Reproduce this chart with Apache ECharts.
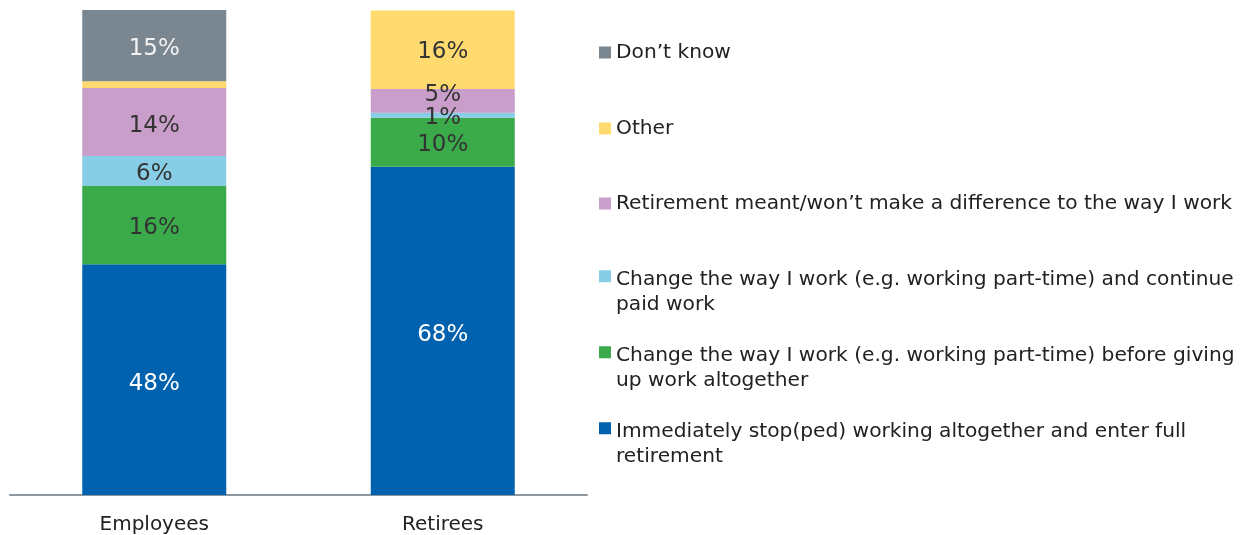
<!DOCTYPE html>
<html>
<head>
<meta charset="utf-8">
<script src="https://cdn.jsdelivr.net/npm/echarts@6/dist/echarts.min.js"></script>
<style>html,body{margin:0;padding:0;background:#fff}#c{width:1252px;height:535px}</style>
</head>
<body>
<div id="c"></div>
<script>
var categories = ['Employees', 'Retirees'];
var seriesNames = [
  'Immediately stop(ped) working altogether and enter full retirement',
  'Change the way I work (e.g. working part-time) before giving up work altogether',
  'Change the way I work (e.g. working part-time) and continue paid work',
  "Retirement meant/won\u2019t make a difference to the way I work",
  'Other',
  'Don\u2019t know'
];
var legendLabels = [
  'Immediately stop(ped) working altogether and enter full\nretirement',
  'Change the way I work (e.g. working part-time) before giving\nup work altogether',
  'Change the way I work (e.g. working part-time) and continue\npaid work',
  "Retirement meant/won\u2019t make a difference to the way I work",
  'Other',
  'Don\u2019t know'
];
var immediately = [47.6, 67.7];
var changeBefore = [16.1, 10.1];
var changeContinue = [6.2, 1.0];
var noDifference = [14.0, 4.9];
var other = [1.4, 16.2];
var dontKnow = [14.7, 0];
var values = [immediately, changeBefore, changeContinue, noDifference, other, dontKnow];

var colors = ['#0062AE', '#3AAA4B', '#87CDE5', '#C99ECA', '#FFDA6E', '#7A8690'];
var labelColors = ['#ffffff', '#333333', '#333333', '#333333', '#333333', '#f2f2f2'];
var labelOffsets = [[[0,4],[0,4]], [[0,3],[0,3]], [[0,3],[0,3]], [[0,4],[0,-6]], [[0,2],[0,2]], [[0,3],[0,2]]];

var series = values.map(function (vals, i) {
  return {
    name: seriesNames[i],
    type: 'bar',
    stack: 'total',
    barWidth: 144,
    itemStyle: { color: colors[i] },
    data: vals.map(function (v, j) {
      return {
        value: v,
        label: { offset: labelOffsets[i][j] }
      };
    }),
    label: {
      show: true,
      position: 'inside',
      color: labelColors[i],
      fontFamily: 'DejaVu Sans',
      fontSize: 23,
      formatter: function (p) {
        var r = Math.round(p.value);
        return (p.value < 0.9) ? '' : (r < 1 || (r === 1 && p.seriesIndex === 4) ? '' : r + '%');
      }
    }
  };
});

var legendTops = [431, 355, 279, 203, 128, 52];
var legends = seriesNames.map(function (n, i) {
  var twoLine = legendLabels[i].indexOf('\n') >= 0;
  var h = twoLine ? 50 : 25;
  return {
    data: [n],
    orient: 'vertical',
    left: 599,
    top: legendTops[i] - 12,
    itemWidth: 12,
    itemHeight: h,
    itemGap: 0,
    padding: 0,
    icon: twoLine ? 'path://M0,6.5H12V18.5H0Z M0,50H12V50H0Z' : 'path://M0,6.5H12V18.5H0Z M0,25H12V25H0Z M0,0H12V0H0Z',
    selectedMode: false,
    formatter: function () { return legendLabels[i]; },
    textStyle: {
      fontFamily: 'DejaVu Sans',
      fontSize: 20.2,
      lineHeight: 25,
      color: '#222'
    }
  };
});

var chart = echarts.init(document.getElementById('c'));
chart.setOption({
  animation: false,
  color: colors,
  legend: legends,
  grid: { left: 10, top: 10, bottom: 40, width: 577, containLabel: false },
  xAxis: {
    type: 'category',
    data: categories,
    axisLine: { lineStyle: { color: '#8C97A0', width: 2 } },
    axisTick: { show: false },
    axisLabel: { fontFamily: 'DejaVu Sans', fontSize: 20, color: '#222', margin: 20 }
  },
  yAxis: { type: 'value', min: 0, max: 100, show: false, splitLine: { show: false } },
  series: series
});
</script>
</body>
</html>
